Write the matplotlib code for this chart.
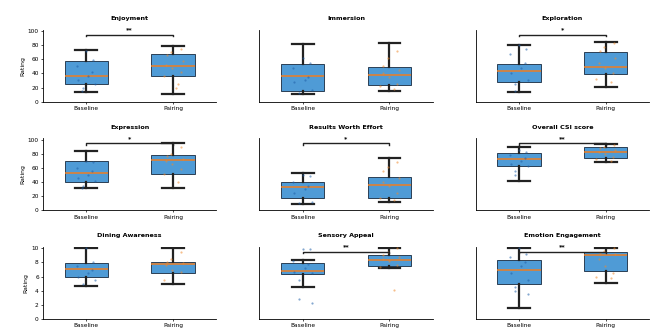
import numpy as np
import matplotlib
matplotlib.use("Agg")
import matplotlib.pyplot as plt

# Panel titles, in grid order (3 x 3)
titles = ["Enjoyment", "Immersion", "Exploration",
          "Expression", "Results Worth Effort", "Overall CSI score",
          "Dining Awareness", "Sensory Appeal", "Emotion Engagement"]
conditions = ["Baseline", "Pairing"]

# Box summaries per panel: (whisker low, Q1, median, Q3, whisker high)
baseline_stats = [
    (14, 25, 36, 58, 73),
    (10.5, 15.5, 36, 54, 81),
    (13.5, 28, 43, 53.5, 80),
    (32, 40.5, 53, 70, 84),
    (9.5, 17.5, 33, 40, 53),
    (42, 63, 72, 81, 89.5),
    (4.7, 6.0, 7.1, 7.95, 10),
    (4.6, 6.4, 6.8, 7.9, 8.4),
    (1.5, 5.0, 7.0, 8.4, 10),
]
pairing_stats = [
    (11, 36.5, 51, 67.5, 79),
    (15, 23.5, 37.5, 49.5, 83.5),
    (20.5, 38.5, 49, 70, 84.5),
    (31.5, 51.5, 71, 79, 95),
    (12.5, 18, 36, 47, 73.5),
    (68.5, 74, 82.5, 89, 93.5),
    (4.9, 6.55, 7.8, 8.1, 10),
    (7.2, 7.5, 8.4, 9.0, 10),
    (5.1, 6.8, 9.1, 9.45, 10),
]

# Individual participant ratings
baseline_points = [
    [72, 59, 50, 42, 36, 30, 25, 20, 15],
    [62, 55, 47, 35, 30, 28, 16, 12],
    [80, 75, 68, 55, 48, 40, 30, 25, 15],
    [70, 68, 60, 55, 50, 46, 42, 35, 32],
    [50, 48, 40, 35, 30, 25, 12, 10],
    [86, 82, 78, 74, 70, 66, 63, 56, 50],
    [10, 8, 7.5, 7, 6.5, 6, 5.5, 5],
    [9.9, 9.9, 8.2, 7.8, 7.2, 6.6, 6.5, 5.5, 2.9, 2.2],
    [10, 9.2, 8.8, 8, 7.5, 6.5, 5.5, 4.5, 4, 3.5],
]
pairing_points = [
    [75, 70, 66, 58, 52, 48, 42, 36, 25, 20],
    [72, 62, 50, 45, 40, 35, 25, 22, 18],
    [83, 78, 72, 62, 55, 48, 40, 32, 28],
    [90, 80, 77, 72, 70, 65, 58, 52, 40],
    [68, 62, 55, 46, 40, 35, 25, 18, 14],
    [92, 90, 88, 85, 82, 80, 76, 72, 70],
    [9.5, 8.5, 8.1, 7.9, 7.6, 7, 6.6, 5.5],
    [10, 9.5, 9.0, 8.8, 8.5, 8.2, 7.6, 7.4, 4.1],
    [10, 9.6, 9.4, 9.2, 8.5, 7.5, 6.5, 6.0, 5.8],
]

# Significance markers between conditions ("" = none)
sig_labels = ["**", "", "*", "*", "*", "**", "", "**", "**"]
y_max = [100, 100, 100, 100, 100, 100, 10, 10, 10]

box_color = "#4f9bd6"
median_color = "#ee7d22"
base_pt_color = "#1f5fa8"
pair_pt_color = "#f08a2c"

fig, axes = plt.subplots(3, 3, figsize=(6.51, 3.29), dpi=100)
fig.subplots_adjust(left=0.066, right=0.997, bottom=0.0304, top=0.910,
                    wspace=0.248, hspace=0.508)

for i, ax in enumerate(axes.flat):
    stats = []
    for st, lab in zip((baseline_stats[i], pairing_stats[i]), conditions):
        lo, q1, med, q3, hi = st
        stats.append(dict(whislo=lo, q1=q1, med=med, q3=q3, whishi=hi,
                          fliers=[], label=lab))
    ax.bxp(stats, positions=[0, 1], widths=0.5, patch_artist=True,
           showfliers=False,
           boxprops=dict(facecolor=box_color, edgecolor="#2b3f55", linewidth=0.7),
           medianprops=dict(color=median_color, linewidth=1.1),
           whiskerprops=dict(color="#222222", linewidth=1.6),
           capprops=dict(color="#222222", linewidth=1.6))

    for pos, pts, col in ((0, baseline_points[i], base_pt_color),
                          (1, pairing_points[i], pair_pt_color)):
        n = len(pts)
        offs = 0.11 * np.sin(np.arange(n) * 2.3 + pos)
        ax.scatter(pos + offs, pts, s=2.5, color=col, alpha=0.55,
                   linewidths=0, zorder=4)

    top = y_max[i]
    ax.set_ylim(0, top * 1.02)
    ax.set_xlim(-0.5, 1.5)
    for s in ("top", "right"):
        ax.spines[s].set_visible(False)
    for s in ("left", "bottom"):
        ax.spines[s].set_linewidth(0.6)
    ax.tick_params(axis="both", labelsize=4.2, length=1.5, width=0.5, pad=1.5)
    ax.set_title(titles[i], fontsize=4.6, fontweight="bold", pad=7)

    if i % 3 == 0:
        ax.set_yticks(np.linspace(0, top, 6))
        ax.set_ylabel("Rating", fontsize=4.4, labelpad=2)
    else:
        ax.set_yticks([])

    if sig_labels[i]:
        h = top * 0.95
        d = top * 0.02
        ax.plot([0, 0, 1, 1], [h - d, h, h, h - d], color="#222222",
                linewidth=1.0, clip_on=False, zorder=5)
        ax.text(0.5, h + top * 0.035, sig_labels[i], ha="center", va="bottom",
                fontsize=4.6, fontweight="bold", clip_on=False)

fig.savefig("out.png", dpi=100)
